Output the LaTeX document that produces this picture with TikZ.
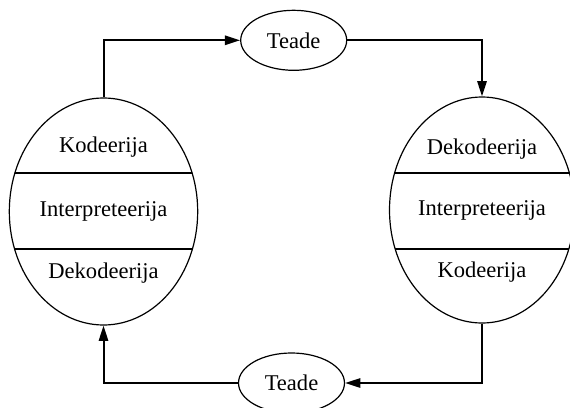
\documentclass[tikz,border=0pt]{standalone}
\usepackage{fontspec}
\setmainfont{Liberation Serif}
\usetikzlibrary{shapes.geometric,arrows.meta,positioning,calc}

\begin{document}
\begin{tikzpicture}[x=0.75pt,y=-0.75pt,
    bigell/.style={draw,ellipse,line width=0.9pt,inner sep=0pt},
    msgell/.style={draw,ellipse,line width=0.9pt,inner sep=0pt,
      minimum width=79.5pt,minimum height=45pt},
    lbl/.style={font=\fontsize{16.9}{20}\selectfont},
    divider/.style={line width=1.6pt},
    flow/.style={line width=1.5pt,-{Triangle[length=11.5pt,width=7pt]}}]
  \useasboundingbox (0,0) rectangle (570,407);
  % the two sides
  \node[bigell,minimum width=141.3pt,minimum height=170.25pt] (lft) at (103.5,211.5) {};
  \node[bigell,minimum width=138.75pt,minimum height=169.5pt] (rgt) at (482,210) {};
  % messages
  \node[msgell,lbl] (msgtop) at (293.7,40.3) {Teade};
  \node[msgell,lbl] (msgbot) at (291.5,383) {Teade};
  % left side layers
  \begin{scope}
    \clip (lft.center) ellipse [x radius=70.65pt, y radius=85.1pt];
    \draw[divider] (lft.west |- 0,173.3) -- (lft.east |- 0,173.3);
    \draw[divider] (lft.west |- 0,249) -- (lft.east |- 0,249);
  \end{scope}
  \node[lbl] (lkod) at (103.5,147) {Kodeerija};
  \node[lbl] (lint) at (103.5,211.5) {Interpreteerija};
  \node[lbl] (ldek) at (103.5,273) {Dekodeerija};
  % right side layers
  \begin{scope}
    \clip (rgt.center) ellipse [x radius=69.4pt, y radius=84.75pt];
    \draw[divider] (rgt.west |- 0,173.3) -- (rgt.east |- 0,173.3);
    \draw[divider] (rgt.west |- 0,249) -- (rgt.east |- 0,249);
  \end{scope}
  \node[lbl] (rdek) at (482,149) {Dekodeerija};
  \node[lbl] (rint) at (482,210) {Interpreteerija};
  \node[lbl] (rkod) at (482,272) {Kodeerija};
  % connectors
  \draw[flow] (lft.north) |- (msgtop.west);
  \draw[flow] (msgtop.east) -| (rgt.north);
  \draw[flow] (rgt.south) |- (msgbot.east);
  \draw[flow] (msgbot.west) -| (lft.south);
\end{tikzpicture}
\end{document}
